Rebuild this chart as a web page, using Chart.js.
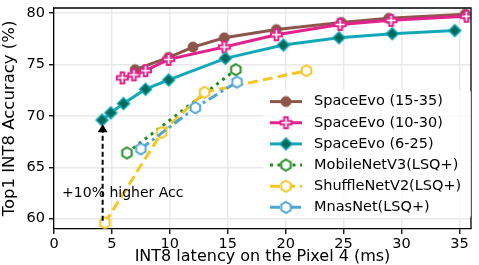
<!DOCTYPE html>
<html lang="en">
<head>
    <meta charset="UTF-8">
    <title>INT8 latency vs accuracy</title>
    <script src="https://cdn.jsdelivr.net/npm/chart.js"></script>
    <style>
        body { margin: 0; background: #fff; }
        #chart { display: block; }
    </style>
</head>
<body>
    <canvas id="chart" width="479" height="265"></canvas>

    <script>
        // values (latency ms, top1 %)
        const evo1535X = [7.0, 9.9, 12.0, 14.7, 19.2, 24.8, 28.9, 35.5];
        const evo1535Y = [74.5, 75.7, 76.7, 77.6, 78.4, 79.1, 79.5, 79.9];
        const evo1030X = [5.9, 6.9, 7.9, 9.9, 14.7, 19.2, 24.7, 29.1, 35.6];
        const evo1030Y = [73.7, 74.0, 74.4, 75.5, 76.7, 77.9, 78.9, 79.3, 79.7];
        const evo625X = [4.15, 4.9, 6.0, 7.9, 9.9, 14.8, 19.8, 24.6, 29.2, 34.6];
        const evo625Y = [69.6, 70.3, 71.2, 72.6, 73.5, 75.6, 76.9, 77.6, 78.0, 78.3];
        const mbv3X = [6.3, 15.7];
        const mbv3Y = [66.4, 74.5];
        const shuffleX = [4.4, 9.3, 13.0, 21.8];
        const shuffleY = [59.6, 68.4, 72.3, 74.4];
        const mnasX = [7.5, 12.2, 15.8];
        const mnasY = [66.8, 70.8, 73.3];

        const labels = ["SpaceEvo (15-35)", "SpaceEvo (10-30)", "SpaceEvo (6-25)",
                        "MobileNetV3(LSQ+)", "ShuffleNetV2(LSQ+)", "MnasNet(LSQ+)"];
        const xTicks = [0, 5, 10, 15, 20, 25, 30, 35];
        const yTicks = [60, 65, 70, 75, 80];

        // annotation arrow: x, from y, to y
        const arrowX = 4.2, arrowFrom = 59.8, arrowTo = 69.2;
        const noteText = "+10% higher Acc";
        const noteX = 0.7, noteY = 62.5;

        const toPts = (xs, ys) => xs.map((x, i) => ({ x: x, y: ys[i] }));

        function makeMarker(kind, fill, stroke, size, lw) {
            const c = document.createElement("canvas");
            c.width = c.height = Math.ceil(size + lw * 2 + 2);
            const g = c.getContext("2d");
            const r = size / 2;
            g.translate(c.width / 2, c.height / 2);
            g.beginPath();
            if (kind === "circle") {
                g.arc(0, 0, r, 0, Math.PI * 2);
            } else if (kind === "diamond") {
                g.moveTo(0, -r); g.lineTo(r, 0); g.lineTo(0, r); g.lineTo(-r, 0);
                g.closePath();
            } else if (kind === "hex") {
                for (let i = 0; i < 6; i++) {
                    const a = (-90 + 60 * i) * Math.PI / 180;
                    g.lineTo(r * Math.cos(a), r * Math.sin(a));
                }
                g.closePath();
            } else if (kind === "plus") {
                const p = [[-1, -3], [1, -3], [1, -1], [3, -1], [3, 1], [1, 1],
                           [1, 3], [-1, 3], [-1, 1], [-3, 1], [-3, -1], [-1, -1]];
                p.forEach(([px, py]) => g.lineTo(px * r / 3, py * r / 3));
                g.closePath();
            }
            g.fillStyle = fill;
            g.fill();
            g.lineWidth = lw;
            g.strokeStyle = stroke;
            g.stroke();
            return c;
        }

        const brown = "#8c564b", pink = "#e3228c", teal = "#13a8b8", tealFill = "#006b5a";
        const green = "#238b23", gold = "#f6c623", sky = "#4fa4d8";

        const mk = [
            makeMarker("circle", brown, brown, 10, 1),
            makeMarker("plus", "#fff", pink, 11, 2),
            makeMarker("diamond", tealFill, teal, 12, 1.5),
            makeMarker("hex", "#fff", green, 11, 2),
            makeMarker("hex", "#fff", gold, 11, 2),
            makeMarker("hex", "#fff", sky, 11, 2)
        ];

        const series = [
            { data: toPts(evo1535X, evo1535Y), color: brown, dash: [], order: 6 },
            { data: toPts(evo1030X, evo1030Y), color: pink, dash: [], order: 5 },
            { data: toPts(evo625X, evo625Y), color: teal, dash: [], order: 4 },
            { data: toPts(mbv3X, mbv3Y), color: green, dash: [3, 4.5], order: 3 },
            { data: toPts(shuffleX, shuffleY), color: gold, dash: [10, 5], order: 2 },
            { data: toPts(mnasX, mnasY), color: sky, dash: [10, 4, 3, 4], order: 1 }
        ];

        const datasets = series.map((s, i) => ({
            label: labels[i],
            data: s.data,
            borderColor: s.color,
            borderWidth: 3,
            borderDash: s.dash,
            pointStyle: mk[i],
            pointRadius: 5,
            fill: false,
            order: s.order
        }));

        const extras = {
            id: "extras",
            afterDatasetsDraw(chart) {
                const ctx = chart.ctx;
                const xs = chart.scales.x, ys = chart.scales.y;
                const a = chart.chartArea;

                // frame top/right
                ctx.save();
                ctx.strokeStyle = "#000";
                ctx.lineWidth = 1.3;
                ctx.beginPath();
                ctx.moveTo(a.left, a.top); ctx.lineTo(a.right, a.top); ctx.lineTo(a.right, a.bottom);
                ctx.stroke();

                // arrow
                const ax = xs.getPixelForValue(arrowX);
                const y0 = ys.getPixelForValue(arrowFrom);
                const y1 = ys.getPixelForValue(arrowTo);
                ctx.setLineDash([5, 3]);
                ctx.lineWidth = 2;
                ctx.beginPath();
                ctx.moveTo(ax, y0); ctx.lineTo(ax, y1 + 6);
                ctx.stroke();
                ctx.setLineDash([]);
                ctx.fillStyle = "#000";
                ctx.beginPath();
                ctx.moveTo(ax, y1); ctx.lineTo(ax + 5, y1 + 8); ctx.lineTo(ax - 5, y1 + 8);
                ctx.closePath();
                ctx.fill();

                // note
                ctx.font = "14px 'DejaVu Sans'";
                ctx.textBaseline = "middle";
                ctx.textAlign = "left";
                ctx.fillText(noteText, xs.getPixelForValue(noteX), ys.getPixelForValue(noteY));

                // legend
                ctx.fillStyle = "rgba(255,255,255,0.8)";
                ctx.beginPath();
                ctx.roundRect(263, 90, 208, 128, 3);
                ctx.fill();
                ctx.font = "14.5px 'DejaVu Sans'";
                chart.data.datasets.forEach((d, i) => {
                    const ry = 101.6 + i * 21.15;
                    ctx.strokeStyle = d.borderColor;
                    ctx.lineWidth = 3;
                    ctx.setLineDash(d.borderDash);
                    ctx.beginPath();
                    ctx.moveTo(270, ry); ctx.lineTo(302, ry);
                    ctx.stroke();
                    ctx.setLineDash([]);
                    const m = d.pointStyle;
                    ctx.drawImage(m, 286 - m.width / 2, ry - m.height / 2);
                    ctx.fillStyle = "#000";
                    ctx.fillText(d.label, 314, ry);
                });
                ctx.restore();
            }
        };

        Chart.defaults.font.family = "'DejaVu Sans'";
        Chart.defaults.color = "#000";

        new Chart(document.getElementById("chart"), {
            type: "line",
            data: { datasets: datasets },
            options: {
                responsive: false,
                animation: false,
                devicePixelRatio: 1,
                layout: { padding: { top: 2, right: 2, left: 0, bottom: 0 } },
                plugins: { legend: { display: false }, tooltip: { enabled: false } },
                scales: {
                    x: {
                        type: "linear",
                        min: 0, max: 36,
                        afterBuildTicks: s => { s.ticks = xTicks.map(v => ({ value: v })); },
                        afterFit: s => { s.height = 36; s.paddingLeft = 0; s.paddingRight = 0; },
                        ticks: { font: { size: 14.5 }, padding: 2, maxRotation: 0 },
                        grid: { color: "#e9e9e9", lineWidth: 1.5, tickLength: 5, tickColor: "#000", tickWidth: 1.3 },
                        border: { display: true, color: "#000", width: 1.3 },
                        title: { display: true, text: "INT8 latency on the Pixel 4 (ms)",
                                 font: { size: 16, lineHeight: 1 }, padding: 0 }
                    },
                    y: {
                        min: 59, max: 80.5,
                        afterBuildTicks: s => { s.ticks = yTicks.map(v => ({ value: v })); },
                        afterFit: s => { s.width = 54; s.paddingTop = 0; s.paddingBottom = 0; },
                        ticks: { font: { size: 14.5 }, padding: 4 },
                        grid: { color: "#e9e9e9", lineWidth: 1.5, tickLength: 5, tickColor: "#000", tickWidth: 1.3 },
                        border: { display: true, color: "#000", width: 1.3 },
                        title: { display: true, text: "Top1 INT8 Accuracy (%)",
                                 font: { size: 16.5 }, padding: 0 }
                    }
                }
            },
            plugins: [extras]
        });
    </script>
</body>
</html>
